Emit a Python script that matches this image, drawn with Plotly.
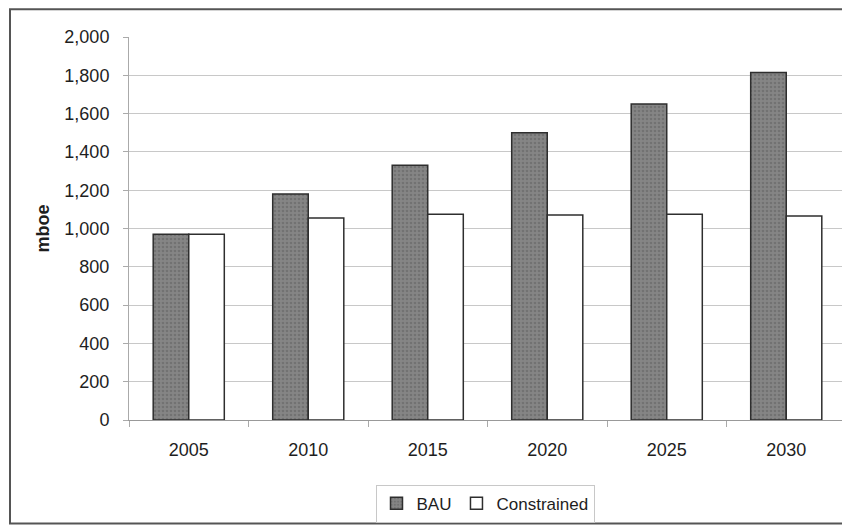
import plotly.graph_objects as go

years = ["2005", "2010", "2015", "2020", "2025", "2030"]
bau = [970, 1180, 1330, 1500, 1650, 1815]
constrained = [970, 1055, 1075, 1070, 1075, 1065]
y_ticks = [0, 200, 400, 600, 800, 1000, 1200, 1400, 1600, 1800, 2000]
y_labels = ["0", "200", "400", "600", "800", "1,000", "1,200", "1,400", "1,600", "1,800", "2,000"]

# page body has an 8px default margin; lay out in page pixels then shift
OFF = 8
W, H = 850, 527
PL, PR, PT, PB = 129, 846, 37, 422  # plot area in page pixels
L = PL - OFF
T = PT - OFF
R = W - (PR - OFF)
B = H - (PB - OFF)
pw, ph = W - L - R, H - T - B


def px(x):
    return (x - OFF - L) / pw


def py(y):
    return (H - B - (y - OFF)) / ph


fig = go.Figure()
fig.add_trace(go.Bar(
    x=years, y=bau, name="BAU",
    marker=dict(color="#858585", line=dict(color="#2e2e2e", width=1.5),
                pattern=dict(shape=".", fgcolor="#5f5f5f", size=4, solidity=0.35)),
))
fig.add_trace(go.Bar(
    x=years, y=constrained, name="Constrained",
    marker=dict(color="#ffffff", line=dict(color="#2e2e2e", width=1.5)),
))

fig.add_shape(type="rect", xref="paper", yref="paper",
              x0=px(10), x1=px(862), y0=py(526), y1=py(9),
              line=dict(color="#555555", width=2), layer="below")

font = "Liberation Sans, Arial, sans-serif"
fig.update_layout(
    width=W, height=H,
    margin=dict(l=L, r=R, t=T, b=B, pad=0),
    paper_bgcolor="white", plot_bgcolor="white",
    barmode="group", bargap=0.405, bargroupgap=0,
    font=dict(family=font, size=18, color="#1e1e1e"),
    showlegend=True,
    legend=dict(orientation="h", x=px(485), xanchor="center", y=py(487), yanchor="top",
                bordercolor="#c8c8c8", borderwidth=1, font=dict(size=17),
                itemwidth=30, tracegroupgap=0, traceorder="normal"),
    xaxis=dict(showgrid=False, showline=True, linecolor="#999999", linewidth=1,
               ticks="outside", tickson="boundaries", ticklen=6, tickcolor="#aaaaaa",
               ticklabelstandoff=13),
    yaxis=dict(range=[0, 2000], tickvals=y_ticks, ticktext=y_labels,
               showgrid=True, gridcolor="#c8c8c8", gridwidth=1,
               showline=True, linecolor="#aaaaaa", linewidth=1,
               ticks="outside", ticklen=5, tickcolor="#aaaaaa",
               ticklabelstandoff=10, zeroline=False,
               title=dict(text="<b>mboe</b>", font=dict(size=18), standoff=10)),
)

fig.write_html("out.html")
